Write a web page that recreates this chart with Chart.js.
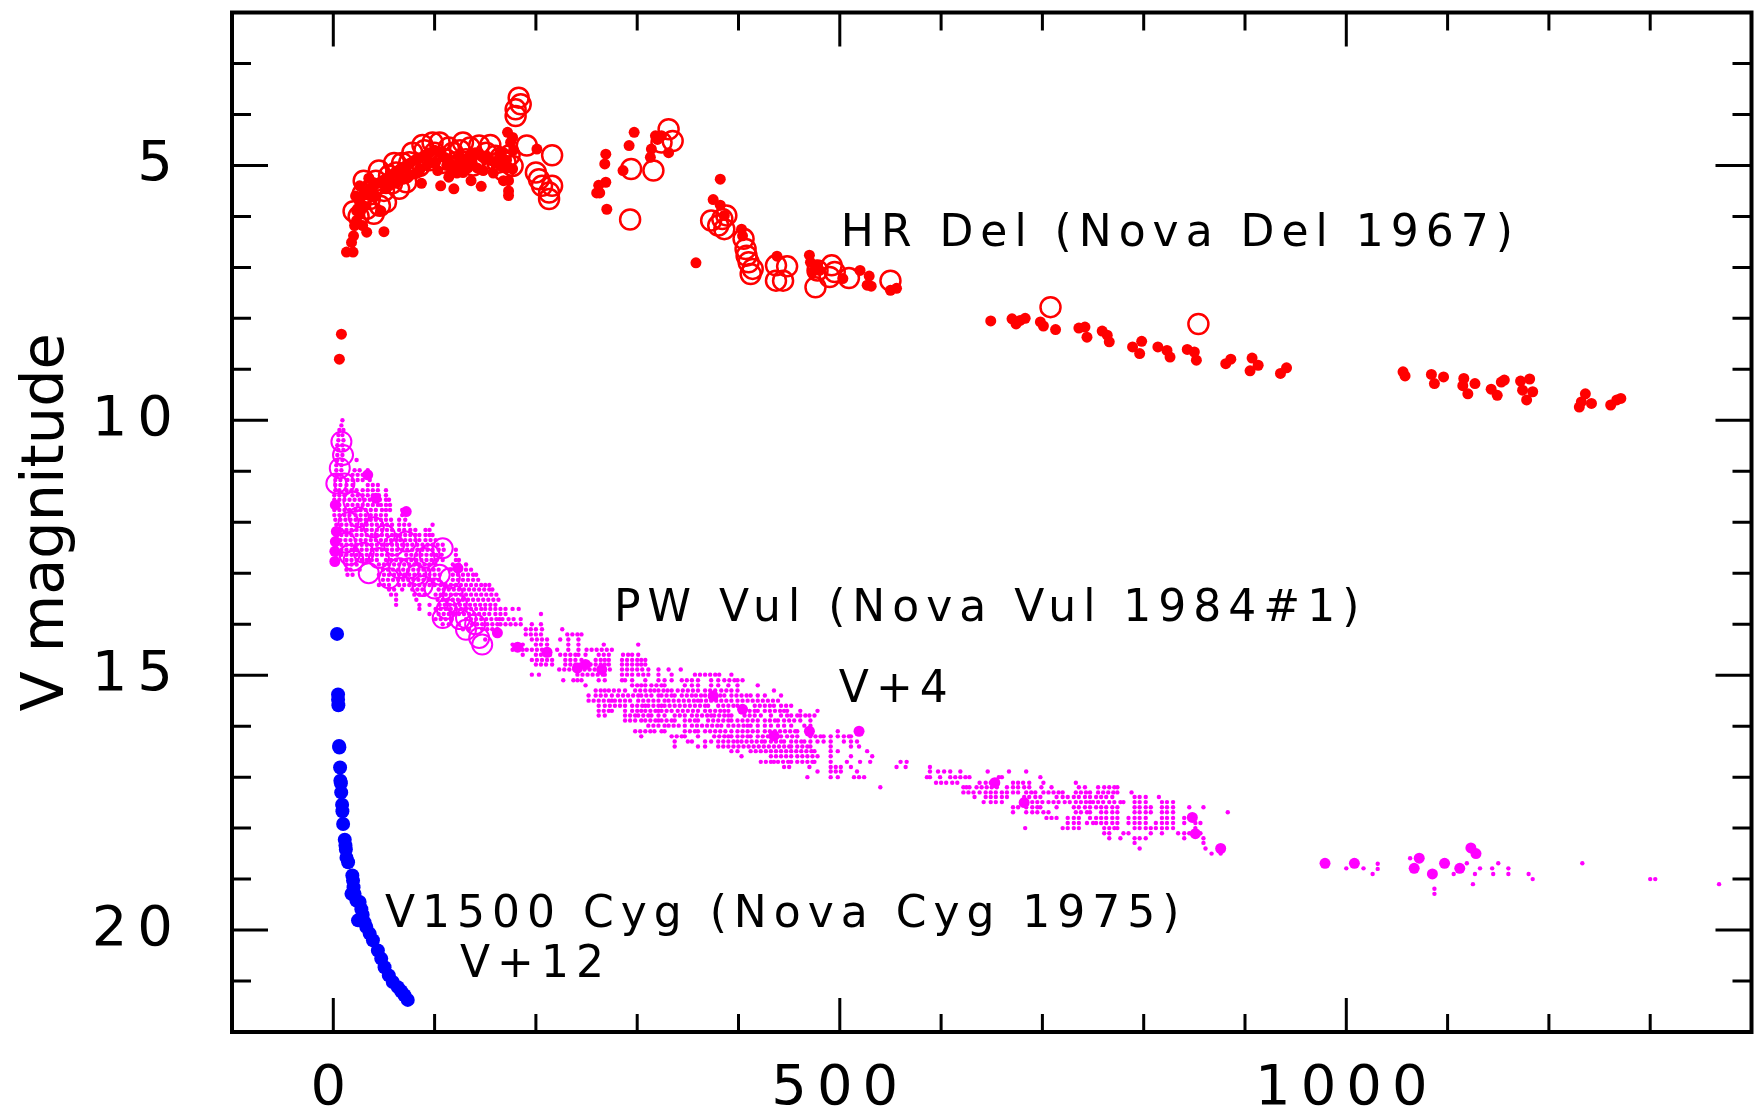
<!DOCTYPE html>
<html lang="en">
<head>
<meta charset="UTF-8" />
<title>Nova light curves: HR Del, PW Vul, V1500 Cyg</title>
<script src="https://cdn.jsdelivr.net/npm/chart.js@4.4.1/dist/chart.umd.min.js"></script>
<style>
  html, body { margin: 0; padding: 0; background: #fff; }
  canvas { display: block; }
</style>
</head>
<body>
<canvas id="novaChart" width="1764" height="1120"></canvas>
<script>
// days after discovery vs V magnitude

// HR Del (Nova Del 1967) - filled dots
const hrDelDots = [
  [8,8.31],[6,8.80],
  [13,6.70],[19.5,6.70],[18,6.51],[20,6.38],[21,6.18],[23,6.08],[29,6.18],[33,6.31],[50,6.30],[23,5.89],[47,5.89],
  [26,5.40],[87,5.35],[106,5.40],[119,5.46],[146,5.41],[136,5.30],[114,5.23],[173,5.30],[173,5.50],[173,5.59],
  [172,4.35],[177,4.45],[175,4.55],[201,4.68],[260,5.54],
  [24,5.85],[26,5.72],[28,5.6],[30,5.55],[33,5.5],[36,5.45],[40,5.4],[44,5.35],[48,5.3],[52,5.25],[56,5.2],
  [60,5.15],[64,5.1],[68,5.05],[72,5.0],[76,4.95],[80,4.9],[85,4.85],[90,4.8],[95,4.75],[100,4.7],[105,4.75],
  [110,4.85],[115,4.95],[120,5.0],[125,5.0],[130,4.9],[135,4.8],[140,4.75],[145,4.8],[150,4.85],[155,4.9],
  [160,4.95],[165,5.0],[170,5.05],
  [36,5.59],[52,5.46],[69,5.27],[85,5.07],[101,4.94],[118,5.07],[128,5.14],[137,4.94],[151,4.81],[164,4.94],[177,5.07],
  [22,5.6],[27,5.9],[31,5.8],[35,5.25],[42,5.6],[55,5.4],[62,5.35],[75,5.2],[82,5.15],[92,5.0],[98,4.95],
  [103,5.1],[112,5.0],[122,5.15],[126,4.85],[133,5.05],[142,5.05],[148,5.1],[158,5.15],[166,4.75],[171,4.9],
  [178,4.7],[168,5.3],
  [269,4.78],[268,4.97],[269,5.33],[262,5.39],[263,5.54],[270,5.86],[292,4.61],[286,5.10],[297,4.35],
  [318,4.42],[314,4.68],[313,4.84],[320,4.49],[331,4.75],[324,4.42],[358,6.91],[382,5.27],[375,5.67],
  [382,5.78],[386,5.98],[403,6.25],[404,6.38],[438,6.78],[470,6.76],[471,6.90],[477,6.96],[480,7.06],
  [473,7.09],[503,7.22],[520,7.06],[529,7.17],[527,7.35],[531,7.37],[550,7.45],[556,7.41],
  [649,8.05],[670,8.01],[674,8.11],[683,8.0],[678,8.04],[698,8.07],[701,8.15],[713,8.22],[736,8.19],
  [742,8.17],[744,8.37],[759,8.25],[764,8.33],[766,8.46],[789,8.56],[796,8.69],[798,8.45],[814,8.56],
  [823,8.63],[826,8.76],[843,8.61],[850,8.66],[852,8.82],[881,8.89],[886,8.80],[907,8.78],[913,8.92],
  [905,9.03],[935,9.08],[941,8.97],[1056,9.05],[1058,9.13],[1084,9.10],[1087,9.28],[1096,9.15],[1116,9.18],
  [1115,9.32],[1127,9.28],[1120,9.48],[1143,9.39],[1149,9.51],[1153,9.25],[1156,9.21],[1172,9.23],
  [1181,9.19],[1174,9.41],[1184,9.44],[1178,9.60],[1232,9.64],[1236,9.48],[1230,9.74],[1242,9.67],
  [1261,9.70],[1267,9.60],[1271,9.57]
];

// HR Del - open circles
const hrDelRings = [
  [183,3.67],[185,3.80],[180,3.90],[180,4.03],[191,4.61],[216,4.80],[200,5.14],[203,5.27],[206,5.40],
  [213,5.53],[213,5.66],[216,5.40],
  [42,5.30],[29,5.56],[36,5.66],[46,5.79],[52,5.72],[62,5.14],[65,5.46],[72,5.33],[78,4.75],[75,4.94],
  [85,5.01],[98,4.55],[100,4.75],[114,4.65],[111,4.88],[121,4.94],[131,4.88],[144,4.61],[141,4.88],
  [151,4.75],[160,4.81],[170,4.94],[177,5.01],[55,5.2],[68,4.95],[90,4.7],[125,4.7],[135,4.65],[165,4.85],
  [30,5.3],[38,5.45],[45,5.1],[50,5.5],[58,5.35],[60,4.95],[70,5.15],[80,5.05],[88,4.6],[95,4.9],
  [105,4.55],[108,4.95],[118,4.75],[128,4.55],[138,5.0],[148,4.95],[155,4.6],[162,4.95],[168,5.1],
  [174,4.8],[20,5.9],[25,6.0],[40,5.95],[33,5.85],
  [294,5.07],[293,6.06],[316,5.10],[331,4.29],[335,4.52],[324,4.55],
  [373,6.08],[380,6.18],[386,6.25],[388,5.98],[384,6.05],[405,6.44],[407,6.64],[408,6.77],[410,6.90],
  [414,7.03],[412,7.13],[437,6.96],[437,7.26],[444,7.26],[448,6.98],[476,7.39],[478,7.06],[492,6.96],
  [495,7.09],[509,7.21],[490,7.19],[550,7.26],[708,7.78],[854,8.11]
];

// PW Vul (V+4) - small dots, one row per quantised magnitude
const pwVulRowMags = [
  10.0,10.1,10.19,10.29,10.39,10.49,10.58,10.68,10.78,10.88,10.98,11.07,11.17,11.27,11.37,11.47,11.56,
  11.66,11.76,11.86,11.95,12.05,12.15,12.25,12.35,12.44,12.54,12.64,12.74,12.83,12.93,13.03,13.13,13.23,
  13.32,13.42,13.52,13.62,13.7,13.8,13.9,14.0,14.1,14.2,14.3,14.4,14.5,14.6,14.7,14.79,14.89,14.99,15.1,
  15.2,15.3,15.4,15.5,15.6,15.7,15.79,15.89,15.99,16.1,16.2,16.3,16.4,16.49,16.59,16.7,16.8,16.89,17.0,
  17.11,17.2,17.3,17.39,17.49,17.59,17.69,17.8,17.9,18.0,18.1,18.2,18.29,18.4,18.5
];
const pwVulRowDays = [
  [9],
  [8],
  [6,10],
  [5,9],
  [5,10],
  [4,9],
  [5,10],
  [4,9],
  [4,9,23],
  [3,8],
  [3,8,21,26,34],
  [3,7,19,24,29,33,36],
  [2,7,14,19,24,29,36],
  [2,7,13,19,34,39,44],
  [2,6,13,18,23,29,34,39,44,52],
  [1,6,11,19,24,29,34,39,45,52],
  [1,6,11,16,21,26,31,36,41,46,52,55],
  [1,6,14,19,24,29,34,39,44,47,52,56],
  [1,6,11,16,22,27,32,37,42,48,52,56,68],
  [1,6,11,16,22,27,32,37,42,47,52,68],
  [2,7,12,17,22,27,32,37,42,47,52,57,65,71],
  [3,8,13,18,23,28,33,38,43,48,53,58,65,70,75,98],
  [3,8,13,18,23,28,33,38,43,48,53,58,65,70,76,81,91,95],
  [3,8,13,18,23,28,33,38,43,48,53,58,62,66,71,76,81,85,91,95,98],
  [2,7,12,17,22,27,32,37,42,47,52,57,62,66,71,76,81,85,91,96,101],
  [3,8,13,18,23,28,33,38,43,48,53,58,63,68,73,78,83,88,93,98,103,108],
  [3,8,13,18,23,28,33,38,43,48,53,58,63,68,73,78,83,88,93,98,104,109,121],
  [3,8,13,18,23,28,33,38,43,48,53,58,63,72,77,82,87,92,97,102,107,121],
  [13,18,23,28,33,38,43,52,57,62,67,72,77,82,87,92,97,102,108,121,124],
  [13,18,23,45,50,55,60,65,70,75,80,85,90,95,101,118,124,131],
  [13,17,26,49,54,59,64,69,74,79,84,89,94,99,104,116,121,126,131,136],
  [14,19,45,50,55,60,65,70,75,80,85,90,95,100,105,118,123,128,133,138,141],
  [49,54,59,64,69,74,79,84,89,94,99,104,118,123,128,133,138,143],
  [45,50,55,65,70,75,80,85,90,95,100,106,111,116,121,126,131,136,141,146,150,154],
  [55,60,68,78,83,88,104,109,114,119,124,129,134,139,144,149,154,157],
  [57,62,80,85,90,101,106,111,116,121,126,131,136,141,146,151,156,161],
  [62,82,103,108,113,118,123,128,133,138,143,148,153,158,163],
  [62,85,95,105,110,115,120,125,130,135,140,145,150,155,160],
  [85,101,106,111,116,121,126,131,136,141,146,150,155,160,165,170,177,183],
  [95,104,109,114,119,124,129,134,139,144,149,154,160,165,170,205],
  [101,106,111,117,131,136,141,146,151,156,161,164,167,173,178,185],
  [108,114,124,137,142,147,152,157,162,165,170,175,180,185,196,205],
  [128,134,147,152,157,162,190,195,200,206,226],
  [160,190,195,200,205,231,236,241,245],
  [150,196,201,206,211,224,232,242],
  [177,182,187,200,205,211,232,242,267,301],
  [177,182,187,191,196,201,206,212,221,232,242,250,255,260,265,270,275],
  [187,200,205,210,214,224,229,234,239,242,249,262,267,272,286,291,295,301],
  [196,201,206,211,216,229,234,239,245,259,264,268,272,285,290,295,300,304,308],
  [200,205,210,216,229,234,239,244,249,254,259,264,268,272,285,290,295,300,304,308],
  [223,228,233,238,243,248,253,258,263,268,273,285,290,295,300,305,311,321,331,343],
  [196,203,241,246,251,256,261,266,268,285,290,295,301,306,311,321,334,357,362,367,372,377,381,393],
  [227,237,241,245,262,268,285,288,295,308,321,327,334,344,349,354,360,373,380,386,391,396,399,404],
  [249,295,300,304,308,314,319,324,327,347,354,360,373,380,390,399,419],
  [259,264,268,272,277,282,288,298,303,308,313,317,321,326,330,334,340,345,350,355,360,367,372,377,383,388,393,399,435],
  [252,259,264,269,275,281,286,291,296,301,304,309,314,321,324,329,334,337,344,349,354,358,363,367,372,377,382,386,393,398,403,408,412,419,426,442],
  [252,257,262,267,272,275,278,283,288,293,301,306,311,316,321,327,331,336,341,346,351,356,360,363,368,373,378,383,388,393,399,404,409,414,419,424,429,434,439],
  [262,268,273,278,283,288,295,300,305,308,311,316,321,324,327,332,337,342,347,352,357,362,367,370,380,385,390,395,399,416,421,426,431,435,442,447,452],
  [262,267,272,275,288,295,300,304,308,313,318,321,324,329,334,340,345,350,355,360,367,372,377,382,386,390,406,411,416,419,426,431,436,441,445,448,461,478],
  [262,268,288,293,298,301,306,311,314,321,327,337,342,347,354,359,364,369,373,376,381,386,390,393,406,411,416,422,432,442,448,452,458,461,466,470,475],
  [288,293,298,304,308,313,318,321,324,329,334,337,347,352,357,360,370,375,380,385,390,393,399,404,409,414,419,426,431,436,439,445,450,455,461,471],
  [311,316,321,327,331,336,341,347,354,359,364,369,374,379,383,390,395,400,405,409,412,419,426,432,439,445,452,465,471],
  [298,303,308,313,317,324,327,347,352,357,360,367,372,377,382,387,393,399,404,409,414,419,426,431,436,441,446,451,456,458,498],
  [304,334,339,344,347,360,376,381,386,390,393,399,404,409,412,419,424,429,434,439,442,448,453,458,471,476,481,484,491,498,504,509,511],
  [337,350,354,367,373,380,385,390,395,399,403,408,413,418,423,426,432,437,442,445,452,457,462,465,471,478,484,491,504,511,517],
  [337,360,367,380,385,390,395,400,405,410,415,420,425,430,435,440,445,450,452,458,463,468,471,491,511,519],
  [393,399,412,417,422,427,432,437,442,447,452,457,462,467,472,475,491,498,527],
  [403,432,437,442,447,452,458,463,468,473,478,491,511,532],
  [422,427,432,435,439,444,449,452,458,463,468,473,475,491,507,520,530,560,566],
  [445,450,470,491,496,501,511,556,565,589],
  [478,491,496,501,517,589,597,603,609,619,646,667,684],
  [468,491,498,514,519,524,586,589,599,609,614,619,624,628,657,660,698],
  [595,600,605,611,616,638,644,649,655,671,676,681,687,701,733],
  [540,622,625,628,635,640,645,650,655,665,671,676,682,687,699,709,736,742,755,761,766,771,774],
  [622,627,632,638,644,649,654,660,665,671,676,684,689,693,701,706,711,716,720,733,738,743,747,755,760,765,770,774,788],
  [633,644,649,654,660,665,682,687,693,698,714,720,725,731,736,742,747,753,758,763,769,791,796,802,815],
  [642,649,654,660,679,684,690,695,700,706,711,716,722,727,733,738,743,747,750,755,760,766,771,777,780,791,796,802,818,823,829],
  [671,676,684,690,695,698,714,731,736,742,747,753,758,763,769,774,791,796,802,807,818,823,829,845,859],
  [671,684,690,695,701,706,733,738,744,747,758,763,769,774,791,796,802,807,818,823,829,883],
  [704,709,714,725,731,736,747,753,758,763,769,774,785,791,796,802,818,823,829,840],
  [725,731,736,744,750,753,758,763,769,774,785,791,796,802,812,818,823,829,840,851,856],
  [683,720,725,731,736,761,766,771,774,791,796,802,807,812,818,823,829,851],
  [761,766,780,785,807,818,834,840,845,851,856],
  [766,777,791,796,802,840,859],
  [791,859],
  [796,861],
  [867,876]
];

// PW Vul - isolated small dots after the seasonal gap
const pwVulFar = [
  [1000,18.79],[1017,18.79],[1026,18.90],[1031,18.70],[1031,18.80],[1063,18.59],[1087,19.19],[1087,19.29],
  [1106,18.90],[1119,18.69],[1125,19.10],[1127,18.90],[1132,18.79],[1145,18.90],[1144,18.79],[1150,18.69],
  [1160,18.79],[1160,18.90],[1180,18.90],[1184,19.0],[1233,18.69],[1300,19.0],[1305,19.0],[1368,19.10]
];

// PW Vul - larger filled dots
const pwVulDots = [
  [1.5,12.77],[3,12.18],[1.5,12.57],[2,11.66],[2,12.38],[34,11.07],[42,11.53],[72,11.79],[123,12.90],
  [162,14.17],[182,14.45],[211,14.55],[241,14.86],[249,14.79],[265,14.89],[375,15.41],[404,15.67],
  [435,16.19],[470,16.10],[519,16.10],[653,17.11],[682,17.50],[848,17.79],[851,18.11],[876,18.40],
  [979,18.69],[1008,18.69],[1072,18.59],[1067,18.79],[1085,18.90],[1097,18.69],[1112,18.79],[1123,18.39],
  [1128,18.50]
];

// PW Vul - open circles
const pwVulRings = [
  [8,10.42],[9.6,10.68],[6.4,10.94],[3,11.24],[11,11.24],[16,12.64],[20,12.75],[51,12.25],[72,12.38],
  [55,13.10],[65,12.90],[82,13.03],[95,12.64],[108,12.51],[105,13.03],[108,13.88],[131,13.88],[131,14.11],
  [144,14.27],[147,14.40],[118,13.42],[25,11.9],[40,12.1],[60,12.45],[88,13.25],[122,13.6],
  [30,12.6],[45,12.7],[35,13.0],[75,12.9],[90,12.7],[100,13.3],[115,13.1],[125,13.9],[112,13.7],
  [140,14.0],[20,11.6],[15,12.0],[12,12.4]
];

// V1500 Cyg (V+12)
const v1500Dots = [
  [3.7,14.19],[4.7,15.38],[4.7,15.48],[5,15.59],[5.7,16.39],[6,16.42],[6.7,16.81],[7,17.07],[7.5,17.12],
  [7.8,17.30],[8.7,17.54],[9,17.67],[9.7,17.92],[11.3,18.23],[12,18.34],[12.4,18.42],[13,18.58],[14.6,18.67],
  [18.8,18.93],[19.5,19.03],[20,19.16],[17.9,19.29],[21,19.29],[22.8,19.42],[26,19.45],[27.7,19.59],
  [24.4,19.81],[29,19.7],[30.9,19.85],[32.6,19.94],[35.9,20.07],[39.1,20.20],[44,20.40],[47.3,20.56],
  [50.6,20.73],[54.8,20.89],[58.7,21.02],[63.7,21.12],[67,21.20],[70.2,21.28],[73.5,21.37]
];

const xTickLabels = [0, 500, 1000];
const yTickLabels = [5, 10, 15, 20];

const notes = [
  ['HR Del (Nova Del 1967)', 501, 6.35],
  ['PW Vul (Nova Vul 1984#1)', 277, 13.71],
  ['V+4', 499, 15.31],
  ['V1500 Cyg (Nova Cyg 1975)', 51, 19.72],
  ['V+12', 125, 20.69]
];

const FONT = "'DejaVu Sans', sans-serif";
const toXY = arr => arr.map(([x, y]) => ({ x, y }));
const pwVulSmall = pwVulRowMags
  .flatMap((m, i) => pwVulRowDays[i].map(d => ({ x: d, y: m })))
  .concat(toXY(pwVulFar));

function dots(data, color, r) {
  return { data, showLine: false, pointRadius: r, pointHoverRadius: r,
    backgroundColor: color, borderColor: color,
    pointBackgroundColor: color, pointBorderColor: color, pointBorderWidth: 0 };
}
function rings(data, color, r, w) {
  return { data, showLine: false, pointRadius: r, pointHoverRadius: r,
    backgroundColor: 'rgba(0,0,0,0)', borderColor: color,
    pointBackgroundColor: 'rgba(0,0,0,0)', pointBorderColor: color, pointBorderWidth: w };
}

// inward ticks on all four sides, box frame, labels and y title
const axesFrame = {
  id: 'axesFrame',
  beforeDraw(chart) {
    chart.ctx.letterSpacing = '10px';
  },
  afterDraw(chart) {
    const { ctx, chartArea: a, scales: { x, y } } = chart;
    ctx.save();
    ctx.strokeStyle = '#000';
    ctx.lineWidth = 3;
    ctx.beginPath();
    x.ticks.forEach(t => {
      if (t.value <= x.min || t.value >= x.max) return;
      const px = x.getPixelForValue(t.value);
      const len = t.value % 500 === 0 ? 34 : 18;
      ctx.moveTo(px, a.bottom); ctx.lineTo(px, a.bottom - len);
      ctx.moveTo(px, a.top); ctx.lineTo(px, a.top + len);
    });
    y.ticks.forEach(t => {
      if (t.value <= y.min || t.value >= y.max) return;
      const py = y.getPixelForValue(t.value);
      const len = t.value % 5 === 0 ? 36 : 19;
      ctx.moveTo(a.left, py); ctx.lineTo(a.left + len, py);
      ctx.moveTo(a.right, py); ctx.lineTo(a.right - len, py);
    });
    ctx.stroke();
    ctx.lineWidth = 4;
    ctx.strokeRect(a.left, a.top, a.right - a.left, a.bottom - a.top);

    ctx.fillStyle = '#000';
    ctx.letterSpacing = '7px';
    ctx.font = '44px ' + FONT;
    ctx.textAlign = 'left';
    ctx.textBaseline = 'middle';
    notes.forEach(([txt, dx, my]) => {
      ctx.fillText(txt, x.getPixelForValue(dx), y.getPixelForValue(my));
    });

    ctx.letterSpacing = '0px';
    ctx.font = '59px ' + FONT;
    ctx.translate(63, (a.top + a.bottom) / 2);
    ctx.rotate(-Math.PI / 2);
    ctx.textAlign = 'center';
    ctx.textBaseline = 'alphabetic';
    ctx.fillText('V magnitude', 0, 0);
    ctx.restore();
  }
};

new Chart(document.getElementById('novaChart'), {
  type: 'scatter',
  data: {
    datasets: [
      rings(toXY(hrDelRings), '#ff0000', 10, 2.5),
      dots(toXY(hrDelDots), '#ff0000', 5.5),
      rings(toXY(pwVulRings), '#ff00ff', 10, 2),
      dots(toXY(pwVulDots), '#ff00ff', 5.5),
      dots(pwVulSmall, '#ff00ff', 2.2),
      dots(toXY(v1500Dots), '#0000ff', 7)
    ]
  },
  options: {
    responsive: false,
    animation: false,
    layout: { padding: { top: 10, right: 7, left: 0, bottom: 0 } },
    plugins: { legend: { display: false }, tooltip: { enabled: false } },
    scales: {
      x: {
        type: 'linear', min: -100, max: 1400,
        grid: { display: false, drawTicks: false },
        border: { display: false },
        afterFit: s => { s.height = 88; s.paddingLeft = 0; s.paddingRight = 0; },
        ticks: {
          stepSize: 100, autoSkip: false, maxRotation: 0, padding: 24,
          color: '#000', font: { family: FONT, size: 56 },
          callback: v => xTickLabels.includes(v) ? String(v) : ''
        }
      },
      y: {
        type: 'linear', min: 2, max: 22, reverse: true,
        grid: { display: false, drawTicks: false },
        border: { display: false },
        afterFit: s => { s.width = 232; s.paddingTop = 0; s.paddingBottom = 0; },
        ticks: {
          stepSize: 1, autoSkip: false, padding: 49,
          color: '#000', font: { family: FONT, size: 56 },
          callback: v => yTickLabels.includes(v) ? String(v) : ''
        }
      }
    }
  },
  plugins: [axesFrame]
});
</script>
</body>
</html>
